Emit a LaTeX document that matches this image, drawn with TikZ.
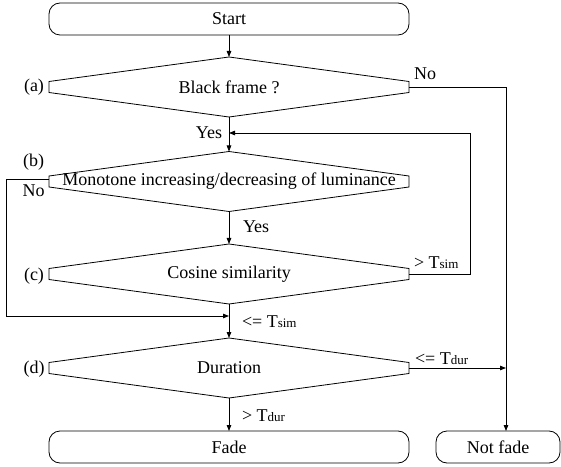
\documentclass[tikz,border=0pt]{standalone}
\usepackage{fontspec}
\setmainfont{Liberation Serif}
\usetikzlibrary{arrows.meta}
\newcommand\subtx[1]{{\fontsize{13bp}{13bp}\selectfont #1}}
\begin{document}
\begin{tikzpicture}[x=1bp,y=-1bp,
  every node/.style={font=\fontsize{18bp}{21bp}\selectfont},
  term/.style={draw, line width=0.8bp, rounded corners=11bp, minimum width=360bp, minimum height=32bp, inner sep=0pt, outer sep=0pt},
  dec/.style={minimum width=360bp, minimum height=60bp, inner sep=0pt, outer sep=0pt},
  lab/.style={inner sep=0pt, outer sep=0pt},
  line/.style={line width=0.8bp},
  arr/.style={line width=0.8bp, -{Triangle[length=6bp,width=4.5bp]}}]
\useasboundingbox (0,0) rectangle (561,467);
% terminals
\node[term] (start) at (229,19) {Start};
\node[term] (fade) at (229,447) {Fade};
\node[term, minimum width=124bp] (notfade) at (498,447) {Not fade};
% decisions
\node[dec] (a) at (229,87) {Black frame ?};
\node[dec] (b) at (229,181.5) {Monotone increasing/decreasing of luminance};
\node[dec] (c) at (229,274) {Cosine similarity};
\node[dec] (d) at (229,368) {Duration};
\foreach \n in {a,b,c,d}
  \draw[line] (\n.north) -- ([yshift=5.5bp]\n.east) -- ([yshift=-5.5bp]\n.east)
    -- (\n.south) -- ([yshift=-5.5bp]\n.west) -- ([yshift=5.5bp]\n.west) -- cycle;
% side labels
\node[lab] (la) at (34,87) {(a)};
\node[lab] (lb) at (33.5,162) {(b)};
\node[lab] (lc) at (34,276) {(c)};
\node[lab] (ld) at (34,369) {(d)};
% coordinates
\coordinate (nf) at (506,431);
\coordinate (loopR) at (470,133);
\coordinate (loopL) at (6,316);
% connectors
\draw[arr] (start.south) -- (a.north);
\draw[arr] (a.south) -- (b.north);
\draw[arr] (b.south) -- (c.north);
\draw[arr] (c.south) -- (d.north);
\draw[arr] (d.south) -- (fade.north);
\draw[arr] (a.east) -| (nf);
\draw[arr] (c.east) -| (loopR) -- (b.north |- loopR);
\draw[arr] ([yshift=2.5bp]b.west) -| (loopL) -- (d.north |- loopL);
\draw[arr] (d.east) -- (d.east -| nf);
% connector labels
\node[lab, anchor=base west] (no1) at (414,80) {No};
\node[lab, anchor=base east] (yes1) at (222,139) {Yes};
\node[lab, anchor=base west] (no2) at (22.7,196.7) {No};
\node[lab, anchor=base west] (yes2) at (243,233) {Yes};
\node[lab, anchor=base west] (gtsim) at (414,269) {> T\subtx{sim}};
\node[lab, anchor=base west] (lesim) at (242,327) {<= T\subtx{sim}};
\node[lab, anchor=base west] (ledur) at (415,364) {<= T\subtx{dur}};
\node[lab, anchor=base west] (gtdur) at (242,421.5) {> T\subtx{dur}};
\end{tikzpicture}
\end{document}
